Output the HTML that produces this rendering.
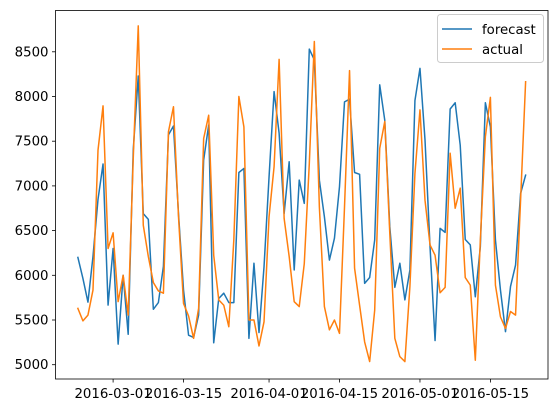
<!DOCTYPE html>
<html><head><meta charset="utf-8"><style>
body{margin:0;background:#fff;}
svg{display:block;font-family:"DejaVu Sans","Liberation Sans",sans-serif;}
</style></head><body>
<svg id="chart" width="560" height="413"></svg>
<script>
const startDate = "2016-02-23";
const forecast = [6200,5965,5700,6210,6850,7245,5667,6300,5230,6000,5340,7400,8230,6690,6625,5620,5695,6100,7570,7670,6690,5835,5330,
5305,5555,7290,7680,5245,5740,5800,5695,5695,7150,7195,5295,6135,5360,6095,7100,8055,7590,6690,7270,6060,7065,6805,8530,
8410,7065,6655,6170,6415,6990,7940,7970,7150,7130,5910,5975,6395,8130,7735,6545,5865,6135,5725,6060,7955,8315,
7515,6320,5270,6525,6480,7860,7930,7455,6400,6340,5760,6320,7930,7660,6395,5835,5370,5875,6115,6915,7120];
const actual = [5630,5490,5555,5835,7400,7895,6300,6475,5705,6000,5555,7300,8790,6560,6210,5920,5825,5800,7605,7885,6655,5685,5545,
5295,5630,7530,7790,6225,5725,5665,5425,6400,8000,7660,5500,5500,5210,5480,6655,7215,8415,6635,6210,5705,5650,6130,7250,
8615,6765,5650,5390,5500,5350,6765,8290,6080,5665,5255,5035,5610,7420,7720,6470,5295,5090,5035,5875,7140,7850,
6840,6340,6225,5805,5865,7365,6750,6975,5975,5890,5050,6395,7550,7990,5890,5535,5405,5595,5555,6840,8165];
const yTicks = [5000,5500,6000,6500,7000,7500,8000,8500];
const xTickLabels = ["2016-03-01","2016-03-15","2016-04-01","2016-04-15","2016-05-01","2016-05-15"];

const NS="http://www.w3.org/2000/svg";
const svg=document.getElementById('chart');
const L=55.5,R=548,T=10.5,B=379;
const n=forecast.length;
const x0=-(n-1)*0.05, x1=(n-1)*1.05;
function xs(i){return L+(i-x0)/(x1-x0)*(R-L);}
function ys(v){return 364.7-(v-5000)/1000*89.4;}
const t0=Date.parse(startDate+"T00:00:00Z");
function dayIndex(s){return (Date.parse(s+"T00:00:00Z")-t0)/86400000;}
function mk(tag,attrs){const e=document.createElementNS(NS,tag);for(const k in attrs)e.setAttribute(k,attrs[k]);svg.appendChild(e);return e;}

yTicks.forEach(v=>{
  const y=ys(v);
  const tk=mk('line',{x1:L-3.5,x2:L,y1:y,y2:y,stroke:'#000','stroke-width':0.8});
  
  
  const t=mk('text',{x:L-7,y:y+4.5,'text-anchor':'end','font-size':'13.3px',fill:'#000'});
  t.textContent=v;
  
  
});
xTickLabels.forEach(s=>{
  const x=xs(dayIndex(s));
  const tk=mk('line',{x1:x,x2:x,y1:B,y2:B+3.5,stroke:'#000','stroke-width':0.8});
  
  
  const t=mk('text',{x:x,y:B+19,'text-anchor':'middle','font-size':'13.3px',fill:'#000'});
  t.textContent=s;
  
  
});

function series(vals,color,name){
  const d=vals.map((v,i)=>(i?'L':'M')+xs(i).toFixed(2)+' '+ys(v).toFixed(2)).join(' ');
  const p=mk('path',{d:d,fill:'none',stroke:color,'stroke-width':1.5,'stroke-linejoin':'round','stroke-linecap':'square'});
  
  
}
series(forecast,'#1f77b4','forecast-line');
series(actual,'#ff7f0e','actual-line');

const frame=mk('rect',{x:L,y:T,width:R-L,height:B-T,fill:'none',stroke:'#000','stroke-width':0.8});



const lg=mk('rect',{x:437.5,y:14.5,width:106,height:48,rx:3,fill:'#fff','fill-opacity':0.8,stroke:'#ccc','stroke-width':1});


[['forecast','#1f77b4',29],['actual','#ff7f0e',49]].forEach(([lab,c,y])=>{
  const l=mk('line',{x1:442,x2:472,y1:y,y2:y,stroke:c,'stroke-width':1.5});
  
  
  const t=mk('text',{x:482,y:y+5,'font-size':'13.3px',fill:'#000'});
  t.textContent=lab;
  
  
});
</script>
</body></html>
